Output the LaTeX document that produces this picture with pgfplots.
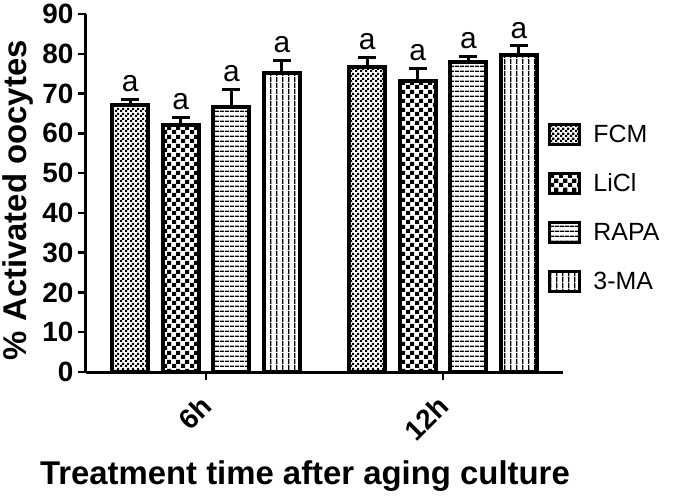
\documentclass[border=0pt]{standalone}
\usepackage{fontspec}
\setmainfont{Liberation Sans}
\usepackage{pgfplots}
\pgfplotsset{compat=1.18}
\usetikzlibrary{patterns}

\pgfdeclarepatternformonly{finechecker}{\pgfqpoint{0bp}{0bp}}{\pgfqpoint{5bp}{5bp}}{\pgfqpoint{5bp}{5bp}}{%
  \pgfpathrectangle{\pgfqpoint{0bp}{0bp}}{\pgfqpoint{2.5bp}{2.5bp}}%
  \pgfpathrectangle{\pgfqpoint{2.5bp}{2.5bp}}{\pgfqpoint{2.5bp}{2.5bp}}%
  \pgfusepath{fill}}
\pgfdeclarepatternformonly{coarsechecker}{\pgfqpoint{0bp}{0bp}}{\pgfqpoint{8.6bp}{8.6bp}}{\pgfqpoint{8.6bp}{8.6bp}}{%
  \pgfpathrectangle{\pgfqpoint{0bp}{0bp}}{\pgfqpoint{4.3bp}{4.3bp}}%
  \pgfpathrectangle{\pgfqpoint{4.3bp}{4.3bp}}{\pgfqpoint{4.3bp}{4.3bp}}%
  \pgfusepath{fill}}
\pgfdeclarepatternformonly{hlines}{\pgfqpoint{0bp}{0bp}}{\pgfqpoint{5bp}{5bp}}{\pgfqpoint{5bp}{5bp}}{%
  \pgfpathrectangle{\pgfqpoint{0bp}{0bp}}{\pgfqpoint{5bp}{1.6bp}}%
  \pgfusepath{fill}}
\pgfdeclarepatternformonly{vlines}{\pgfqpoint{0bp}{0bp}}{\pgfqpoint{5.5bp}{5.5bp}}{\pgfqpoint{5.5bp}{5.5bp}}{%
  \pgfpathrectangle{\pgfqpoint{0bp}{0bp}}{\pgfqpoint{1.5bp}{5.5bp}}%
  \pgfusepath{fill}}

\pgfplotstableread{
x      y     e
-0.320 67.1  1.5
 0.680 76.8  2.3
}\fcm
\pgfplotstableread{
x      y     e
-0.107 62.1  2.0
 0.893 73.2  3.2
}\licl
\pgfplotstableread{
x      y     e
 0.107 66.6  4.5
 1.107 77.9  1.5
}\rapa
\pgfplotstableread{
x      y     e
 0.320 75.2  3.2
 1.320 79.7  2.3
}\tma

\begin{document}
\begin{tikzpicture}
\begin{axis}[
  scale only axis, width=477bp, height=358bp,
  at={(0,0)}, anchor=south west,
  xmin=-0.506, xmax=1.506, ymin=0, ymax=90,
  axis x line*=bottom, axis y line*=left,
  axis line style={line width=3bp,-},
  xtick={0,1}, xticklabels={6h,12h},
  ytick={0,10,...,90},
  tick style={line width=2.5bp, black},
  major tick length=8bp,
  tick align=outside,
  yticklabel style={font=\fontsize{28}{28}\selectfont\bfseries, xshift=-1bp},
  xticklabel style={font=\fontsize{28}{28}\selectfont\bfseries, rotate=45, anchor=east, yshift=-15.5bp, xshift=-11bp},
  /pgf/number format/assume math mode=true,
  ylabel={\% Activated oocytes},
  xlabel={Treatment time after aging culture},
  ylabel style={font=\fontsize{33}{33}\selectfont\bfseries, at={(rel axis cs:-0.1426,0.48)}, anchor=center, rotate=0},
  xlabel style={font=\fontsize{33}{33}\selectfont\bfseries, at={(rel axis cs:0.459,-0.29)}, anchor=center},
  ybar, bar shift=0pt, bar width=0.152,
  clip=false,
  legend style={at={(rel axis cs:0.969,0.458)}, anchor=west, draw=none, fill=none, inner sep=0pt,
    font=\fontsize{25}{25}\selectfont, row sep=26bp,
    /tikz/every odd column/.append style={column sep=10bp}},
  legend cell align=left,
  legend image code/.code={\draw[#1, line width=3bp] (0bp,-10bp) rectangle (30bp,10bp);},
  error bars/y dir=plus, error bars/y explicit,
  error bars/error bar style={line width=3bp, black},
  error bars/error mark options={rotate=90, mark size=9bp, line width=3bp, black},
]
\addplot[draw=black, line width=4bp, pattern=finechecker] table[x=x,y=y,y error=e]{\fcm};
\addlegendentry{FCM}
\addplot[draw=black, line width=4bp, pattern=coarsechecker] table[x=x,y=y,y error=e]{\licl};
\addlegendentry{LiCl}
\addplot[draw=black, line width=4bp, pattern=hlines] table[x=x,y=y,y error=e]{\rapa};
\addlegendentry{RAPA}
\addplot[draw=black, line width=4bp, pattern=vlines] table[x=x,y=y,y error=e]{\tma};
\addlegendentry{3-MA}
% significance letters above the error caps
\addplot[draw=none, fill=none, forget plot, nodes near coords={a},
  every node near coord/.append style={font=\fontsize{30}{30}\selectfont, anchor=south, yshift=4bp}]
  coordinates {(-0.320,68.6) (0.680,79.1) (-0.107,64.1) (0.893,76.4) (0.107,71.1) (1.107,79.4) (0.320,78.4) (1.320,82.0)};
\end{axis}
\pgfresetboundingbox
\path (-86bp,-125bp) rectangle (599bp,372bp);
\end{tikzpicture}
\end{document}
